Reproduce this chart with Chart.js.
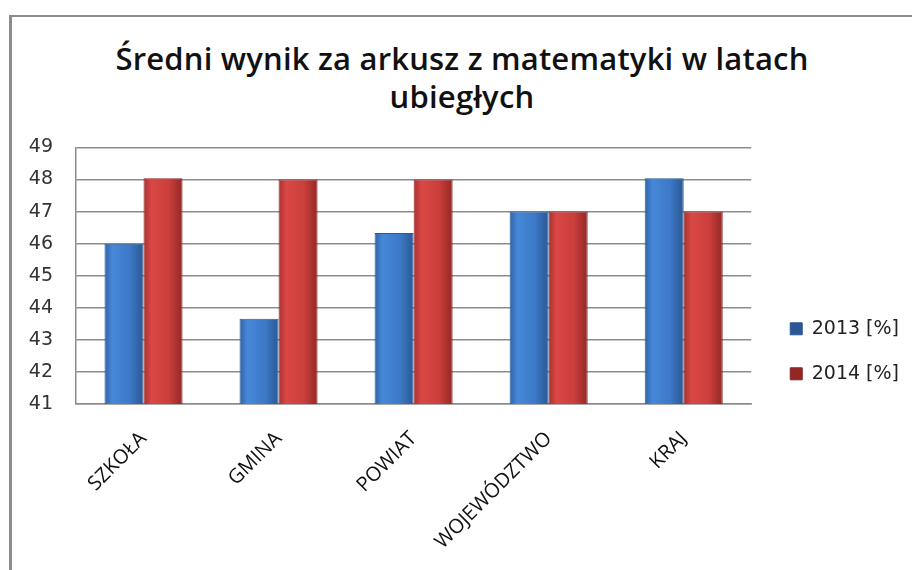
<!DOCTYPE html>
<html>
<head>
<meta charset="utf-8">
<script src="https://cdn.jsdelivr.net/npm/chart.js@4/dist/chart.umd.min.js"></script>
<style>
  html, body { margin: 0; padding: 0; background: #fff; width: 912px; height: 570px; overflow: hidden; }
  #frame { position: absolute; left: 9px; top: 15px; width: 920px; height: 600px;
           border-left: 3px solid #8c8c8c; border-top: 2px solid #8c8c8c; box-sizing: border-box; }
  #title { position: absolute; left: 12px; width: 900px; top: 39px; text-align: center;
           font-family: "Open Sans", "Liberation Sans", sans-serif; font-weight: 600; font-size: 31px;
           line-height: 38px; color: #111; letter-spacing: 0.2px; }
  #wrap { position: absolute; left: 0; top: 113px; width: 912px; height: 457px; }
</style>
</head>
<body>
<div id="frame"></div>
<div id="title">Średni wynik za arkusz z matematyki w latach<br>ubiegłych</div>
<div id="wrap"><canvas id="c"></canvas></div>
<script>
const categories = ["SZKOŁA", "GMINA", "POWIAT", "WOJEWÓDZTWO", "KRAJ"];
const seriesNames = ["2013 [%]", "2014 [%]"];
const values2013 = [46.0, 43.66, 46.33, 47.0, 48.04];
const values2014 = [48.04, 48.0, 48.0, 47.0, 47.0];
const yMin = 41, yMax = 49, yStep = 1;

const CAT_PCT = 0.578;

// horizontal shading of each bar, computed from the category scale
function barGradient(dsIndex, edge, light, base, dark) {
  return function (ctx) {
    const chart = ctx.chart;
    const xs = chart.scales.x;
    if (!xs || !chart.chartArea || ctx.dataIndex === undefined) return base;
    const catW = xs.width / categories.length;
    const barW = catW * CAT_PCT / 2;
    const center = xs.getPixelForValue(ctx.dataIndex);
    const x0 = center - catW * CAT_PCT / 2 + dsIndex * barW;
    const x1 = x0 + barW;
    if (!isFinite(x0) || !isFinite(x1)) return base;
    const g = chart.ctx.createLinearGradient(x0, 0, x1, 0);
    g.addColorStop(0, edge);
    g.addColorStop(0.2, light);
    g.addColorStop(0.65, base);
    g.addColorStop(1, dark);
    return g;
  };
}

const legendShift = {
  id: 'legendShift',
  afterLayout(chart) {
    const lg = chart.legend;
    if (lg) { lg.left += 13; lg.right += 13; }
  }
};

new Chart(document.getElementById('c'), {
  type: 'bar',
  data: {
    labels: categories,
    datasets: [
      { label: seriesNames[0], data: values2013,
        backgroundColor: barGradient(0, '#2f62a4', '#4688d8', '#3c79c6', '#2b5894'),
        borderColor: '#2a5896', borderWidth: 1 },
      { label: seriesNames[1], data: values2014,
        backgroundColor: barGradient(1, '#a83130', '#da4745', '#cb3f3c', '#922826'),
        borderColor: '#8a2422', borderWidth: 1 }
    ]
  },
  plugins: [legendShift],
  options: {
    responsive: true,
    maintainAspectRatio: false,
    animation: false,
    devicePixelRatio: 1,
    layout: { padding: { left: 0, right: 16, top: 10, bottom: 0 } },
    datasets: { bar: { categoryPercentage: CAT_PCT, barPercentage: 1.0 } },
    plugins: {
      tooltip: { enabled: false },
      title: { display: false },
      legend: {
        position: 'right',
        align: 'center',
        title: { display: true, text: ' ', font: { size: 8 }, padding: 0 },
        labels: {
          font: { family: "'DejaVu Sans', sans-serif", size: 19 },
          color: '#222',
          boxWidth: 12, boxHeight: 12,
          padding: 26
        }
      }
    },
    scales: {
      x: {
        afterFit(scale) { scale.height = scale.height - 7; },
        grid: { display: false, drawTicks: false },
        border: { display: true, color: '#8c8c8c', width: 1.5 },
        ticks: {
          font: { family: "'Open Sans', sans-serif", size: 20 },
          color: '#111',
          minRotation: 45, maxRotation: 45,
          padding: 23
        }
      },
      y: {
        min: yMin, max: yMax,
        afterFit(scale) { scale.width = 76; },
        ticks: {
          stepSize: yStep,
          font: { family: "'DejaVu Sans', sans-serif", size: 19 },
          color: '#333',
          padding: 23
        },
        grid: { color: '#8c8c8c', lineWidth: 1.5, drawTicks: false },
        border: { display: true, color: '#8c8c8c', width: 1.5 }
      }
    }
  }
});
</script>
</body>
</html>
